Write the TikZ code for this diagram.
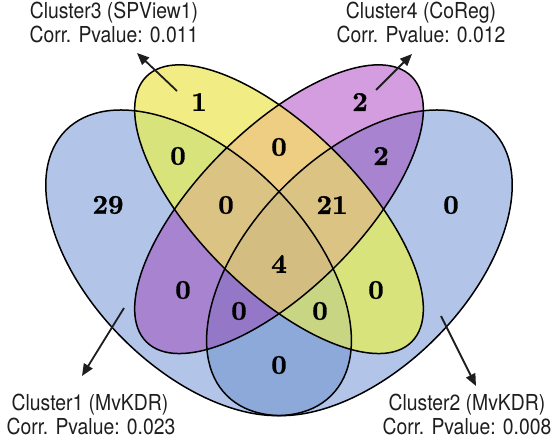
\documentclass[tikz,border=0pt]{standalone}
\usepackage{fontspec}
\usetikzlibrary{arrows.meta}
\newfontfamily\lblfont{TeX Gyre Heros}[FakeStretch=0.88]
\newfontfamily\numfont{lmroman10-bold.otf}[FakeBold=1.2]

% region colours
\definecolor{cA}{HTML}{B2C5E9}
\definecolor{cC}{HTML}{F2EC84}
\definecolor{cD}{HTML}{D49DE0}
\definecolor{cAB}{HTML}{8DA9D9}
\definecolor{cAC}{HTML}{D9E37C}
\definecolor{cAD}{HTML}{A883D0}
\definecolor{cCD}{HTML}{EECE82}
\definecolor{cABC}{HTML}{C8D683}
\definecolor{cABD}{HTML}{9577C7}
\definecolor{cACD}{HTML}{DAC383}
\definecolor{cABCD}{HTML}{D4BD80}
\definecolor{inkgrey}{HTML}{1E1E1E}

\tikzset{
  ellA/.style={shift={(198.6,262.8)},rotate=-45},
  ellB/.style={shift={(359.4,262.8)},rotate=45},
  ellC/.style={shift={(279,209.2)},rotate=-45},
  ellD/.style={shift={(279,209.2)},rotate=45},
  setline/.style={draw=black,line width=1.5pt},
  num/.style={font=\numfont\fontsize{27}{27}\selectfont,inner sep=0pt},
  lbl/.style={font=\lblfont\fontsize{22}{24}\selectfont,text=inkgrey,anchor=base,inner sep=0pt},
  pointer/.style={draw=inkgrey,line width=1.8pt,-{Triangle[length=12pt,width=10pt]}},
}

% clipping to one set
\newcommand\clipA{\clip[ellA] (0,0) ellipse [x radius=187.6pt,y radius=107.2pt];}
\newcommand\clipB{\clip[ellB] (0,0) ellipse [x radius=187.6pt,y radius=107.2pt];}
\newcommand\clipC{\clip[ellC] (0,0) ellipse [x radius=187.6pt,y radius=80.4pt];}
\newcommand\clipD{\clip[ellD] (0,0) ellipse [x radius=187.6pt,y radius=80.4pt];}
\newcommand\paintall[1]{\fill[#1] (0,0) rectangle (554,441);}

\begin{document}
\begin{tikzpicture}[x=1pt,y=-1pt]
\useasboundingbox (0,0) rectangle (554,441);

% single sets
\begin{scope}\clipA\paintall{cA}\end{scope}
\begin{scope}\clipB\paintall{cA}\end{scope}
\begin{scope}\clipC\paintall{cC}\end{scope}
\begin{scope}\clipD\paintall{cD}\end{scope}
% pairs
\begin{scope}\clipA\clipB\paintall{cAB}\end{scope}
\begin{scope}\clipA\clipC\paintall{cAC}\end{scope}
\begin{scope}\clipA\clipD\paintall{cAD}\end{scope}
\begin{scope}\clipB\clipC\paintall{cAC}\end{scope}
\begin{scope}\clipB\clipD\paintall{cAD}\end{scope}
\begin{scope}\clipC\clipD\paintall{cCD}\end{scope}
% triples
\begin{scope}\clipA\clipB\clipC\paintall{cABC}\end{scope}
\begin{scope}\clipA\clipB\clipD\paintall{cABD}\end{scope}
\begin{scope}\clipA\clipC\clipD\paintall{cACD}\end{scope}
\begin{scope}\clipB\clipC\clipD\paintall{cACD}\end{scope}
% all four
\begin{scope}\clipA\clipB\clipC\clipD\paintall{cABCD}\end{scope}

% outlines
\draw[setline,ellA] (0,0) ellipse [x radius=187.6pt,y radius=107.2pt];
\draw[setline,ellB] (0,0) ellipse [x radius=187.6pt,y radius=107.2pt];
\draw[setline,ellC] (0,0) ellipse [x radius=187.6pt,y radius=80.4pt];
\draw[setline,ellD] (0,0) ellipse [x radius=187.6pt,y radius=80.4pt];

% counts
\node[num] (nA)    at (108,205) {29};
\node[num] (nB)    at (451,205) {0};
\node[num] (nC)    at (199,102) {1};
\node[num] (nD)    at (360,102) {2};
\node[num] (nAC)   at (178,156) {0};
\node[num] (nCD)   at (279,147) {0};
\node[num] (nBD)   at (381,156) {2};
\node[num] (nACD)  at (226,205) {0};
\node[num] (nBCD)  at (332,205) {21};
\node[num] (nABCD) at (279,264) {4};
\node[num] (nAD)   at (183,290) {0};
\node[num] (nBC)   at (376,290) {0};
\node[num] (nABD)  at (239,311) {0};
\node[num] (nABC)  at (320,311) {0};
\node[num] (nAB)   at (279,365) {0};

% set labels
\node[lbl] (labC1) at (114,19)  {Cluster3 (SPView1)};
\node[lbl] (labC2) at (114,43)  {Corr. Pvalue: 0.011};
\node[lbl] (labD1) at (421,19)  {Cluster4 (CoReg)};
\node[lbl] (labD2) at (421,43)  {Corr. Pvalue: 0.012};
\node[lbl] (labA1) at (90,410)  {Cluster1 (MvKDR)};
\node[lbl] (labA2) at (91,434)  {Corr. Pvalue: 0.023};
\node[lbl] (labB1) at (467,410) {Cluster2 (MvKDR)};
\node[lbl] (labB2) at (467,434) {Corr. Pvalue: 0.008};

% pointers from each set to its label
\coordinate (tC) at (177,91);  \coordinate (hC) at (137,53);
\coordinate (tD) at (376,90);  \coordinate (hD) at (412,54);
\coordinate (tA) at (124,308); \coordinate (hA) at (82,376);
\coordinate (tB) at (441,316); \coordinate (hB) at (476,386);
\draw[pointer] (tC) -- (hC);
\draw[pointer] (tD) -- (hD);
\draw[pointer] (tA) -- (hA);
\draw[pointer] (tB) -- (hB);
\end{tikzpicture}
\end{document}
